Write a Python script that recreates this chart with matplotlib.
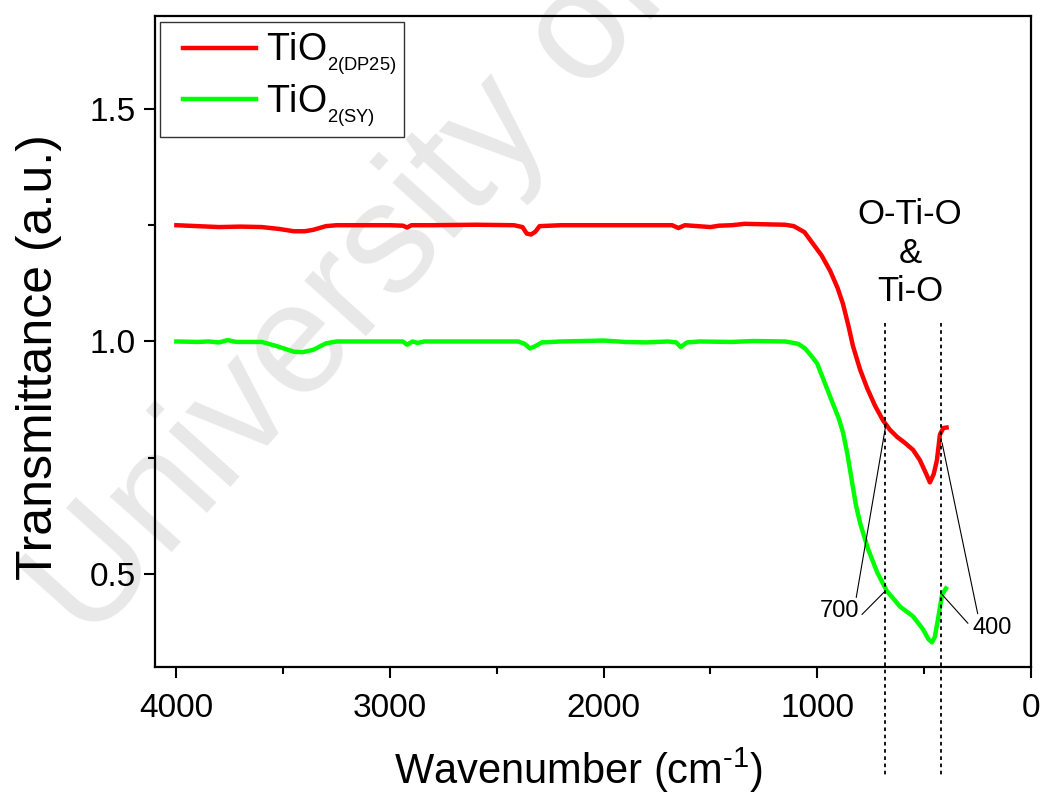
import matplotlib
matplotlib.use('Agg')
import matplotlib.pyplot as plt
from matplotlib.ticker import MultipleLocator
from matplotlib.legend_handler import HandlerLine2D

plt.rcParams['font.family'] = ['Liberation Sans', 'DejaVu Sans']
plt.rcParams['mathtext.fontset'] = 'custom'
plt.rcParams['mathtext.rm'] = 'Liberation Sans'
plt.rcParams['mathtext.it'] = 'Liberation Sans:italic'

# TiO2 (DP25) spectrum
wn_dp25 = [4000, 3900, 3800, 3700, 3600, 3520, 3450, 3400, 3360, 3300, 3250, 3100,
           3000, 2940, 2920, 2900, 2800, 2600, 2420, 2380, 2360, 2340, 2320, 2300,
           2200, 2000, 1800, 1680, 1650, 1620, 1560, 1500, 1460, 1400, 1340, 1250,
           1150, 1110, 1060, 1020, 980, 940, 905, 880, 855, 833, 800, 767, 730, 692,
           660, 627, 590, 552, 520, 490, 473, 455, 440, 426, 410, 395]
t_dp25 = [1.250, 1.248, 1.246, 1.247, 1.246, 1.242, 1.237, 1.237, 1.240, 1.248, 1.250, 1.250,
          1.250, 1.249, 1.245, 1.250, 1.250, 1.251, 1.250, 1.246, 1.232, 1.230, 1.236, 1.248,
          1.250, 1.250, 1.250, 1.250, 1.244, 1.250, 1.248, 1.246, 1.249, 1.250, 1.253, 1.252,
          1.251, 1.248, 1.235, 1.210, 1.185, 1.152, 1.115, 1.081, 1.035, 0.990, 0.940, 0.900, 0.862, 0.830,
          0.810, 0.795, 0.782, 0.767, 0.745, 0.715, 0.697, 0.715, 0.745, 0.800, 0.814, 0.815]

# TiO2 (SY) spectrum
wn_sy = [4000, 3900, 3850, 3800, 3760, 3720, 3600, 3530, 3450, 3410, 3360, 3300, 3250,
         3000, 2940, 2920, 2895, 2870, 2840, 2600, 2400, 2370, 2345, 2320, 2290, 2200,
         2000, 1900, 1800, 1700, 1660, 1640, 1610, 1550, 1400, 1300, 1150, 1113, 1090,
         1057, 1030, 1001, 960, 926, 900, 880, 860, 840, 820, 800, 762, 720, 674, 640, 613,
         552, 505, 480, 463, 450, 435, 416, 398]
t_sy = [1.000, 0.999, 1.000, 0.998, 1.003, 0.999, 0.999, 0.990, 0.978, 0.977, 0.982, 0.996, 1.000,
        1.000, 1.000, 0.993, 1.000, 0.997, 1.000, 1.000, 1.000, 0.995, 0.985, 0.990, 0.998, 1.000,
        1.002, 0.999, 0.998, 1.000, 0.998, 0.988, 0.998, 1.000, 0.999, 1.001, 1.000, 0.997, 0.995,
        0.985, 0.970, 0.953, 0.905, 0.865, 0.835, 0.805, 0.760, 0.705, 0.650, 0.610, 0.553, 0.504, 0.463, 0.445, 0.430,
        0.409, 0.381, 0.360, 0.353, 0.365, 0.403, 0.456, 0.469]

band_lines = [685, 420]
band_labels = ['700', '400']

fig = plt.figure(figsize=(10.44, 7.96), dpi=100)
ax = fig.add_axes([0.1485, 0.162, 0.839, 0.818])
ax.patch.set_alpha(0)

# faint watermark behind the axes
fig.text(0.085, 0.19, 'University of Malaya', fontsize=114, color='#e8e8e8',
         rotation=48, rotation_mode='anchor', ha='left', va='baseline', zorder=-1)

ax.plot(wn_dp25, t_dp25, color='#ff0000', lw=3.2, label=r'TiO$_{_{\mathrm{2(DP25)}}}$')
ax.plot(wn_sy, t_sy, color='#00ff00', lw=3.2, label=r'TiO$_{_{\mathrm{2(SY)}}}$')

ax.set_xlim(4100, 0)
ax.set_ylim(0.3, 1.7)
ax.xaxis.set_major_locator(MultipleLocator(1000))
ax.xaxis.set_minor_locator(MultipleLocator(500))
ax.yaxis.set_major_locator(MultipleLocator(0.5))
ax.yaxis.set_minor_locator(MultipleLocator(0.25))
ax.yaxis.set_major_formatter(plt.FormatStrFormatter('%.1f'))
ax.tick_params(which='major', direction='out', length=8, width=1.5, labelsize=24, pad=6)
ax.tick_params(which='minor', direction='out', length=5, width=1.5)
ax.tick_params(axis='x', which='major', pad=11)
ax.tick_params(top=False, right=False)
for s in ax.spines.values():
    s.set_linewidth(1.6)

ax.set_xlabel('Wavenumber (cm$^{\\mathrm{\u2010}1}$)', fontsize=30, labelpad=15)
ax.xaxis.label.set_x(0.483)
ax.set_ylabel('Transmittance (a.u.)', fontsize=36, labelpad=20)
ax.yaxis.label.set_y(0.476)

# band markers
for x in band_lines:
    ax.plot([x, x], [1.04, 0.067], color='black', lw=1.3, ls=(0, (2, 2)), clip_on=False)

ax.text(566, 1.19, 'O-Ti-O\n&\nTi-O', fontsize=25, ha='center', va='center', linespacing=1.2)

ax.annotate(band_labels[0], xy=(678, 0.824), xytext=(894, 0.42), fontsize=17,
            ha='center', va='center',
            arrowprops=dict(arrowstyle='-', color='black', lw=0.8, shrinkA=0, shrinkB=0,
                            relpos=(0.9, 1.0)))
ax.annotate('', xy=(683, 0.463), xytext=(791, 0.413),
            arrowprops=dict(arrowstyle='-', color='black', lw=0.8, shrinkA=0, shrinkB=0))
ax.annotate(band_labels[1], xy=(416, 0.782), xytext=(182, 0.385), fontsize=17,
            ha='center', va='center',
            arrowprops=dict(arrowstyle='-', color='black', lw=0.8, shrinkA=0, shrinkB=0,
                            relpos=(0.15, 1.0)))
ax.annotate('', xy=(416, 0.456), xytext=(295, 0.394),
            arrowprops=dict(arrowstyle='-', color='black', lw=0.8, shrinkA=0, shrinkB=0))

leg = ax.legend(loc='upper left', bbox_to_anchor=(0.0057, 0.990), borderaxespad=0,
                fontsize=27, frameon=True, fancybox=False, edgecolor='black',
                handlelength=2.35, handletextpad=0.25, labelspacing=0.12,
                borderpad=0.22, handler_map={matplotlib.lines.Line2D: HandlerLine2D(xpad=0.38)})
leg.get_frame().set_linewidth(1.0)

fig.savefig('out.png', dpi=100)
